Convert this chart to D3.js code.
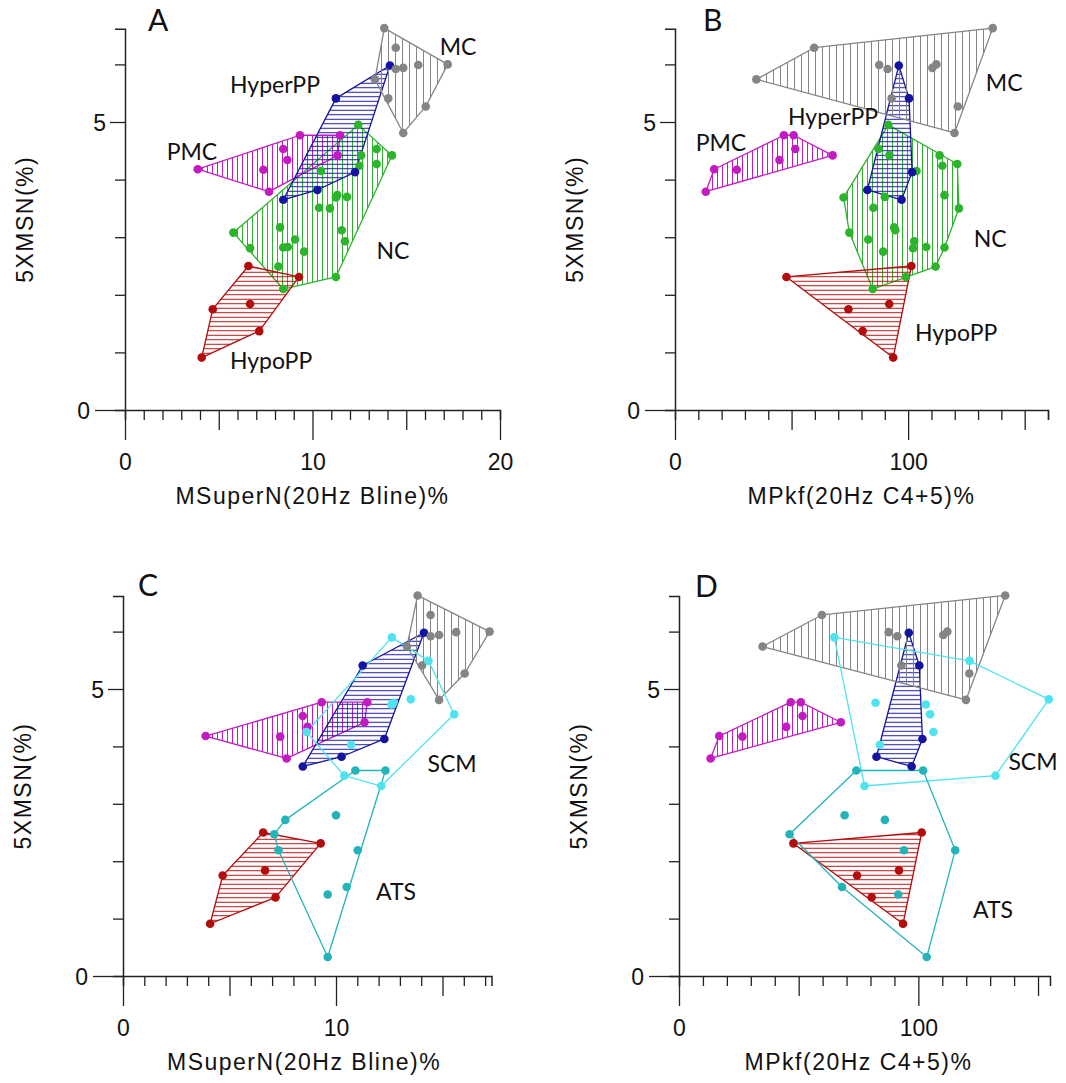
<!DOCTYPE html>
<html>
<head>
<meta charset="utf-8">
<script src="https://cdn.jsdelivr.net/npm/d3@7"></script>
<style>
  body { margin: 0; background: #fff; }
</style>
</head>
<body>
<svg width="1066" height="1083"></svg>
<script>
// values: y = 5XMSN(%), x1 = MSuperN(20Hz Bline)%, x2 = MPkf(20Hz C4+5)%
const mcMsn    = [6.63, 6.29, 6.00, 5.99, 5.94, 5.92, 5.74, 5.41, 5.27, 4.81];
const mcSuper  = [13.83, 14.44, 17.21, 15.64, 14.84, 14.44, 13.33, 14.04, 16.04, 14.84];
const mcPkf    = [136.3, 59.7, 112.1, 87.6, 110.4, 91.2, 34.9, 92.9, 121.3, 119.9];

const hyperMsn   = [5.98, 5.41, 4.13, 3.82, 3.65];
const hyperSuper = [14.13, 11.25, 12.27, 10.26, 8.44];
const hyperPkf   = [96.0, 100.4, 101.7, 82.5, 97.2];

const pmcMsn   = [3.79, 4.18, 4.17, 4.77, 4.77, 4.53, 4.34, 4.42];
const pmcSuper = [7.68, 3.88, 7.38, 9.33, 11.47, 8.44, 8.66, 11.34];
const pmcPkf   = [13.2, 16.8, 26.5, 46.7, 50.9, 51.6, 44.8, 67.6];

const ncMsn   = [4.95, 4.53, 4.42, 4.42, 4.27, 4.24, 4.15, 3.73, 3.69, 3.70, 3.51, 3.50,
                 3.08, 3.17, 3.12, 2.93, 2.96, 2.82, 2.83, 2.81, 2.75, 2.49, 2.10, 2.31];
const ncSuper = [12.44, 13.42, 14.24, 12.59, 13.42, 12.50, 10.45, 11.32, 11.25, 11.84, 10.35, 10.93,
                 5.78, 8.27, 11.56, 11.73, 9.07, 8.44, 8.68, 6.67, 9.55, 8.18, 8.44, 11.25];
const ncPkf   = [91.5, 87.3, 113.5, 92.0, 121.1, 114.7, 103.6, 115.6, 72.3, 90.0, 85.1, 121.8,
                 74.8, 94.0, 94.5, 102.6, 82.9, 115.6, 107.8, 102.1, 89.3, 111.8, 84.8, 99.0];

const hypoMsn   = [2.50, 2.31, 1.75, 1.84, 1.37, 0.91];
const hypoSuper = [6.58, 9.28, 4.68, 6.67, 7.16, 4.09];
const hypoPkf   = [101.4, 47.8, 74.4, 91.9, 80.5, 93.6];

const scmMsn   = [5.90, 5.49, 4.82, 4.76, 4.73, 4.56, 4.25, 4.03, 3.49, 3.31];
const scmSuper = [12.62, 14.34, 13.51, 12.70, 12.60, 15.55, 8.62, 10.71, 10.39, 12.12];
const scmPkf   = [64.9, 121.4, 154.5, 82.1, 103.1, 104.9, 106.3, 83.9, 132.2, 77.5];

const atsMsn   = [3.58, 3.58, 2.72, 2.80, 2.47, 2.19, 2.19, 1.55, 1.42, 0.33];
const atsSuper = [10.91, 12.32, 7.62, 10.00, 7.10, 7.30, 11.02, 10.50, 9.61, 9.61];
const atsPkf   = [74.1, 102.0, 86.0, 69.2, 46.2, 94.0, 115.4, 68.1, 91.6, 103.5];

const groups = {
  MC:      { y: mcMsn,    x1: mcSuper,    x2: mcPkf,    color: "#858585", hatch: "v", gap: 7 },
  HyperPP: { y: hyperMsn, x1: hyperSuper, x2: hyperPkf, color: "#1414a0", hatch: "h", gap: 4.5 },
  PMC:     { y: pmcMsn,   x1: pmcSuper,   x2: pmcPkf,   color: "#c21bc2", hatch: "v", gap: 5 },
  NC:      { y: ncMsn,    x1: ncSuper,    x2: ncPkf,    color: "#2cb52c", hatch: "v", gap: 5 },
  HypoPP:  { y: hypoMsn,  x1: hypoSuper,  x2: hypoPkf,  color: "#b30c0c", hatch: "h", gap: 4.5 },
  SCM:     { y: scmMsn,   x1: scmSuper,   x2: scmPkf,   color: "#4fe3ef", hatch: null },
  ATS:     { y: atsMsn,   x1: atsSuper,   x2: atsPkf,   color: "#23b4ba", hatch: null }
};

const labelsA = [["MC", 17.76, 6.30], ["HyperPP", 8.0, 5.64], ["PMC", 3.57, 4.48], ["NC", 14.29, 2.76], ["HypoPP", 7.79, 0.85]];
const labelsB = [["MC", 141.2, 5.68], ["HyperPP", 67.8, 5.09], ["PMC", 19.7, 4.64], ["NC", 135.2, 2.97], ["HypoPP", 120.6, 1.35]];
const labelsC = [["SCM", 15.45, 3.69], ["ATS", 12.82, 1.46]];
const labelsD = [["SCM", 147.9, 3.73], ["ATS", 131.2, 1.15]];

const xTitle1 = "MSuperN(20Hz Bline)%";
const xTitle2 = "MPkf(20Hz C4+5)%";
const yTitle = "5XMSN(%)";

const panels = [
  { letter: "A", x0: 125, x1: 500,  xMax: 20,   xStep: 1,  tickMax: 20,  y0: 410, yPx: 57.6, key: "x1", title: xTitle1,
    show: ["NC", "PMC", "HyperPP", "HypoPP", "MC"], labels: labelsA, lx: 148, ly: 31 },
  { letter: "B", x0: 675, x1: 1048, xMax: 160,  xStep: 10, tickMax: 160, y0: 410, yPx: 57.6, key: "x2", title: xTitle2,
    show: ["NC", "PMC", "HyperPP", "HypoPP", "MC"], labels: labelsB, lx: 703, ly: 31 },
  { letter: "C", x0: 123, x1: 491.5, xMax: 17.3, xStep: 1,  tickMax: 17,  y0: 976, yPx: 57.4, key: "x1", title: xTitle1,
    show: ["PMC", "HyperPP", "HypoPP", "MC", "SCM", "ATS"], labels: labelsC, lx: 138, ly: 596 },
  { letter: "D", x0: 679, x1: 1050, xMax: 155,  xStep: 10, tickMax: 150, y0: 976, yPx: 57.4, key: "x2", title: xTitle2,
    show: ["PMC", "HyperPP", "HypoPP", "MC", "SCM", "ATS"], labels: labelsD, lx: 695, ly: 597 }
];

const yTop = 6.62;
const arial = '"Liberation Sans", Arial, sans-serif';
const calibriLike = 'Lato, "Open Sans", sans-serif';
const svg = d3.select("svg");
const defs = svg.append("defs");

// hatch patterns
Object.entries(groups).forEach(([name, g]) => {
  if (!g.hatch) return;
  const p = defs.append("pattern")
    .attr("id", "hatch-" + name)
    .attr("patternUnits", "userSpaceOnUse")
    .attr("width", g.gap).attr("height", g.gap);
  p.append("path")
    .attr("d", g.hatch === "v" ? `M${g.gap / 2},0V${g.gap}` : `M0,${g.gap / 2}H${g.gap}`)
    .attr("stroke", g.color)
    .attr("stroke-width", 1);
});

panels.forEach(function(pn) {
  const x = d3.scaleLinear().domain([0, pn.xMax]).range([pn.x0, pn.x1]);
  const y = d3.scaleLinear().domain([0, yTop]).range([pn.y0, pn.y0 - yTop * pn.yPx]);
  const g = svg.append("g");

  // hulls
  pn.show.forEach(function(name) {
    const grp = groups[name];
    const pts = grp.y.map((v, i) => [x(grp[pn.key][i]), y(v)]);
    const hull = d3.polygonHull(pts);
    g.append("path")
      .attr("d", "M" + hull.join("L") + "Z")
      .attr("fill", grp.hatch ? `url(#hatch-${name})` : "none")
      .attr("stroke", grp.color)
      .attr("stroke-width", 1.3)
      .attr("stroke-linejoin", "round");
  });

  // points
  pn.show.forEach(function(name) {
    const grp = groups[name];
    g.append("g").selectAll("circle")
      .data(grp.y.map((v, i) => [grp[pn.key][i], v]))
      .enter().append("circle")
      .attr("cx", d => x(d[0]))
      .attr("cy", d => y(d[1]))
      .attr("r", 4.3)
      .attr("fill", grp.color);
  });

  // x axis
  const big = pn.xStep * 10, mid = pn.xStep * 5;
  const xa = g.append("g")
    .attr("transform", `translate(0,${pn.y0})`)
    .call(d3.axisBottom(x)
      .tickValues(d3.range(0, pn.tickMax + pn.xStep / 2, pn.xStep))
      .tickSizeOuter(0)
      .tickSize(10)
      .tickFormat(d => (Math.round(d) % big === 0 ? d : "")));
  xa.select(".domain").attr("stroke", "#222").attr("stroke-width", 1.5);
  xa.selectAll(".tick line")
    .attr("stroke", "#222").attr("stroke-width", 1.3)
    .attr("y2", d => (Math.round(d) % big === 0 ? 30 : Math.round(d) % mid === 0 ? 20 : 10));
  xa.selectAll(".tick text")
    .attr("y", 60).attr("dy", null)
    .style("font-family", arial).style("font-size", "23px").attr("fill", "#111");

  // y axis
  const ya = g.append("g")
    .attr("transform", `translate(${pn.x0},0)`)
    .call(d3.axisLeft(y)
      .tickValues(d3.range(0, 7))
      .tickSizeOuter(0)
      .tickSize(10)
      .tickFormat(d => (d === 0 || d === 5 ? d : "")));
  ya.select(".domain").attr("stroke", "#222").attr("stroke-width", 1.5);
  ya.selectAll(".tick line")
    .attr("stroke", "#222").attr("stroke-width", 1.3)
    .attr("x2", d => (d === 0 ? -30 : d === 5 ? -15 : -10));
  ya.selectAll(".tick text")
    .attr("x", d => (d === 0 ? -35 : -19))
    .attr("dy", "0.36em")
    .style("font-family", arial).style("font-size", "23px").attr("fill", "#111");

  // titles
  g.append("text")
    .attr("x", (pn.x0 + x(pn.tickMax)) / 2)
    .attr("y", pn.y0 + 94)
    .attr("text-anchor", "middle")
    .style("font-family", arial).style("font-size", "23px")
    .style("letter-spacing", "1.5px")
    .attr("fill", "#111")
    .text(pn.title);

  g.append("text")
    .attr("transform", `translate(${pn.x0 - 92},${(y(0) + y(yTop)) / 2}) rotate(-90)`)
    .attr("text-anchor", "middle")
    .style("font-family", arial).style("font-size", "23px")
    .style("letter-spacing", "1.5px")
    .attr("fill", "#111")
    .text(yTitle);

  g.append("text")
    .attr("x", pn.lx).attr("y", pn.ly)
    .style("font-family", calibriLike).style("font-size", "30px")
    .attr("fill", "#111")
    .text(pn.letter);

  g.selectAll(".grp-label")
    .data(pn.labels)
    .enter().append("text")
    .attr("class", "grp-label")
    .attr("x", d => x(d[1]))
    .attr("y", d => y(d[2]))
    .attr("dy", "0.36em")
    .attr("text-anchor", "middle")
    .style("font-family", calibriLike).style("font-size", "23px")
    .attr("fill", "#111")
    .text(d => d[0]);
});
</script>
</body>
</html>
